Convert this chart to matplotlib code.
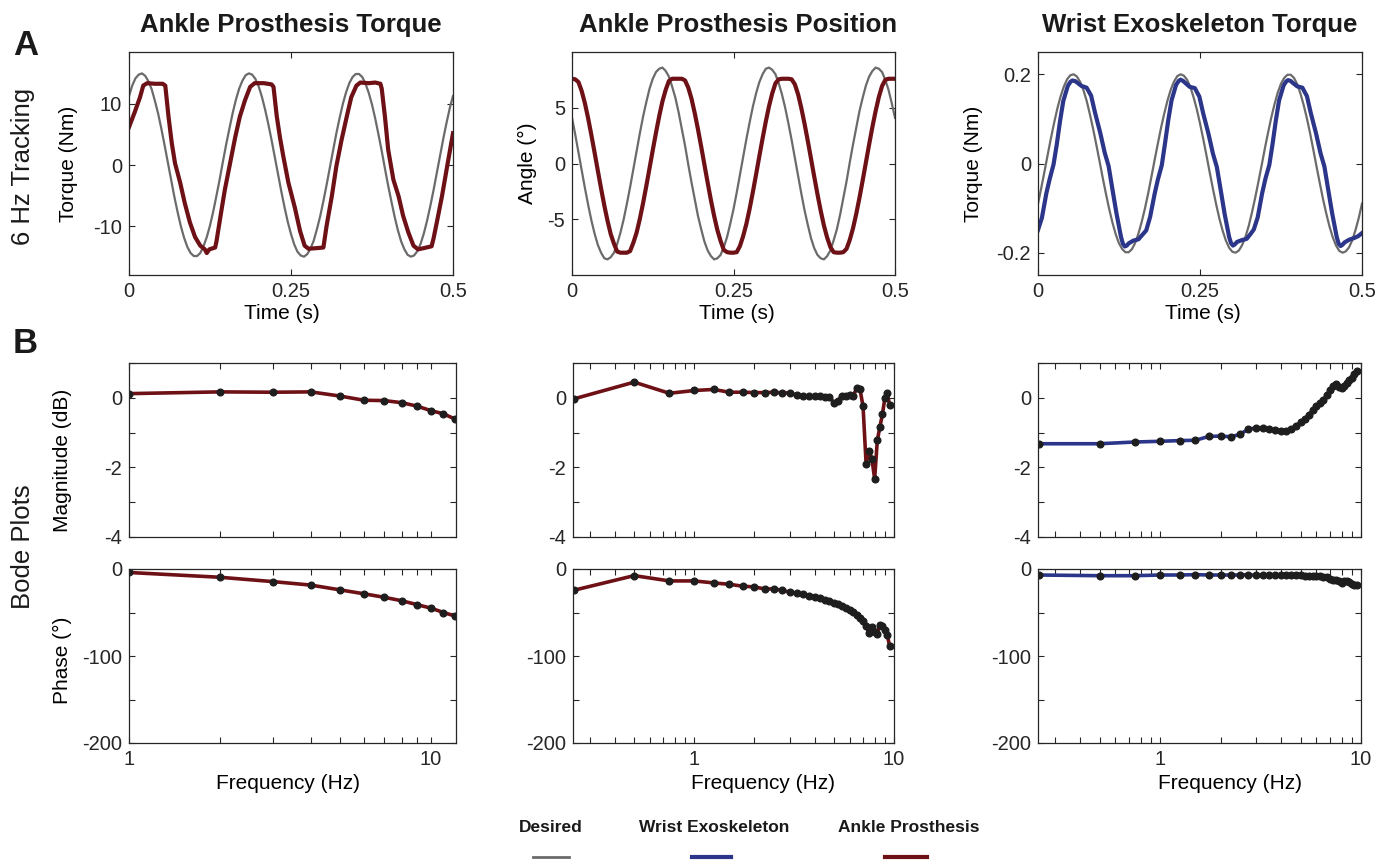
import numpy as np
import matplotlib
matplotlib.use('Agg')
import matplotlib.pyplot as plt
from matplotlib.lines import Line2D
from matplotlib.ticker import LogLocator, NullFormatter, FixedLocator

plt.rcParams['font.family'] = ['Liberation Sans', 'DejaVu Sans']

# ---------------- 6 Hz tracking data ----------------
# signals sampled every 5 ms (0 .. 0.5 s)
t_grid = np.linspace(0, 0.5, 101)

torque_desired = [11.3, 13.0, 14.2, 14.8, 15.0, 14.6, 13.7, 12.4, 10.5, 8.4,
                  5.9, 3.2, 0.4, -2.4, -5.2, -7.7, -10.0, -11.9, -13.4, -14.4,
                  -14.9, -14.9, -14.4, -13.3, -11.8, -9.9, -7.6, -5.0, -2.3, 0.6,
                  3.4, 6.0, 8.5, 10.7, 12.5, 13.8, 14.7, 15.0, 14.8, 14.1,
                  12.9, 11.2, 9.1, 6.7, 4.1, 1.3, -1.5, -4.3, -6.9, -9.3,
                  -11.3, -13.0, -14.2, -14.8, -15.0, -14.6, -13.7, -12.4, -10.5, -8.4,
                  -5.9, -3.2, -0.4, 2.4, 5.2, 7.7, 10.0, 11.9, 13.4, 14.4,
                  14.9, 14.9, 14.4, 13.3, 11.8, 9.9, 7.6, 5.0, 2.3, -0.6,
                  -3.4, -6.0, -8.5, -10.7, -12.5, -13.8, -14.7, -15.0, -14.8, -14.1,
                  -12.9, -11.2, -9.1, -6.7, -4.1, -1.3, 1.5, 4.3, 6.9, 9.3, 11.3]

ankle_torque_t = [0.000, 0.009, 0.017, 0.022, 0.028, 0.040, 0.052, 0.056, 0.061, 0.066,
                  0.071, 0.079, 0.086, 0.094, 0.102, 0.110, 0.117, 0.120, 0.124, 0.133,
                  0.135, 0.138, 0.143, 0.148, 0.156, 0.164, 0.171, 0.179, 0.187, 0.194,
                  0.208, 0.220, 0.223, 0.228, 0.233, 0.238, 0.246, 0.256, 0.264, 0.271,
                  0.277, 0.290, 0.300, 0.305, 0.313, 0.320, 0.328, 0.336, 0.343, 0.351,
                  0.357, 0.370, 0.380, 0.388, 0.390, 0.395, 0.400, 0.408, 0.416, 0.423,
                  0.431, 0.439, 0.446, 0.455, 0.467, 0.470, 0.475, 0.483, 0.491, 0.500]
ankle_torque = [6.2, 8.7, 11.1, 13.0, 13.4, 13.3, 13.3, 13.0, 7.9, 3.6,
                0.3, -2.9, -6.2, -9.4, -11.8, -13.2, -13.8, -14.4, -13.8, -13.5,
                -12.5, -10.5, -7.2, -4.0, 0.3, 4.6, 7.9, 10.6, 12.8, 13.4,
                13.4, 13.2, 12.8, 8.0, 4.5, 1.5, -2.9, -7.0, -10.8, -13.2,
                -13.7, -13.6, -13.5, -9.9, -5.1, -0.2, 4.1, 7.9, 11.1, 13.0,
                13.5, 13.4, 13.5, 13.3, 12.5, 7.9, 2.5, -2.4, -5.1, -8.3,
                -11.0, -13.2, -13.8, -13.6, -13.3, -12.0, -9.4, -5.1, -0.2, 5.2]

angle_desired = [4.1, 2.6, 1.0, -0.6, -2.2, -3.7, -5.1, -6.3, -7.3, -8.0,
                 -8.5, -8.6, -8.4, -8.0, -7.2, -6.2, -5.0, -3.6, -2.1, -0.5,
                 1.1, 2.7, 4.2, 5.5, 6.7, 7.6, 8.2, 8.5, 8.6, 8.3,
                 7.8, 6.9, 5.9, 4.6, 3.1, 1.6, -0.1, -1.7, -3.2, -4.7,
                 -5.9, -7.0, -7.8, -8.3, -8.6, -8.5, -8.2, -7.5, -6.6, -5.4,
                 -4.1, -2.6, -1.0, 0.6, 2.2, 3.7, 5.1, 6.3, 7.3, 8.0,
                 8.5, 8.6, 8.4, 8.0, 7.2, 6.2, 5.0, 3.6, 2.1, 0.5,
                 -1.1, -2.7, -4.2, -5.5, -6.7, -7.6, -8.2, -8.5, -8.6, -8.3,
                 -7.8, -6.9, -5.9, -4.6, -3.1, -1.6, 0.1, 1.7, 3.2, 4.7,
                 5.9, 7.0, 7.8, 8.3, 8.6, 8.5, 8.2, 7.5, 6.6, 5.4, 4.1]
ankle_angle = [7.6, 7.55, 7.3, 6.5, 5.4, 4.05, 2.55, 0.97, -0.65, -2.24,
               -3.76, -5.14, -6.34, -7.2, -7.9, -8.0, -8.0, -8.0, -7.85, -7.1,
               -6.2, -4.97, -3.56, -2.03, -0.43, 1.19, 2.76, 4.24, 5.57, 6.6,
               7.4, 7.6, 7.6, 7.6, 7.6, 7.45, 6.8, 5.81, 4.52, 3.07,
               1.51, -0.11, -1.72, -3.27, -4.70, -5.96, -6.95, -7.75, -7.95, -8.0,
               -8.0, -7.95, -7.4, -6.5, -5.4, -4.05, -2.55, -0.97, 0.65, 2.24,
               3.76, 5.14, 6.3, 7.2, 7.55, 7.6, 7.6, 7.6, 7.55, 7.1,
               6.2, 4.97, 3.56, 2.03, 0.43, -1.19, -2.76, -4.24, -5.57, -6.65,
               -7.5, -7.95, -8.0, -8.0, -7.95, -7.65, -6.85, -5.81, -4.52, -3.07,
               -1.51, 0.11, 1.72, 3.27, 4.70, 5.96, 6.95, 7.5, 7.6, 7.6, 7.6]

wrist_desired = [-0.090, -0.055, -0.018, 0.020, 0.057, 0.092, 0.124, 0.151, 0.173, 0.189,
                 0.198, 0.200, 0.195, 0.183, 0.165, 0.141, 0.111, 0.078, 0.042, 0.005,
                 -0.033, -0.069, -0.103, -0.133, -0.159, -0.179, -0.192, -0.199, -0.199, -0.192,
                 -0.178, -0.157, -0.131, -0.101, -0.067, -0.030, 0.008, 0.045, 0.081, 0.113,
                 0.142, 0.166, 0.184, 0.196, 0.200, 0.197, 0.188, 0.172, 0.149, 0.122,
                 0.090, 0.055, 0.018, -0.020, -0.057, -0.092, -0.124, -0.151, -0.173, -0.189,
                 -0.198, -0.200, -0.195, -0.183, -0.165, -0.141, -0.111, -0.078, -0.042, -0.005,
                 0.033, 0.069, 0.103, 0.133, 0.159, 0.179, 0.192, 0.199, 0.199, 0.192,
                 0.178, 0.157, 0.131, 0.101, 0.067, 0.030, -0.008, -0.045, -0.081, -0.113,
                 -0.142, -0.166, -0.184, -0.196, -0.200, -0.197, -0.188, -0.172, -0.149, -0.122,
                 -0.090]

wrist_torque_t = [0.000, 0.006, 0.013, 0.018, 0.024, 0.029, 0.034, 0.039, 0.046, 0.050,
                  0.053, 0.057, 0.060, 0.067, 0.075, 0.082, 0.088, 0.096, 0.103, 0.109,
                  0.115, 0.121, 0.128, 0.131, 0.134, 0.137, 0.140, 0.147, 0.155, 0.161,
                  0.167, 0.173, 0.180, 0.185, 0.191, 0.196, 0.201, 0.206, 0.213, 0.217,
                  0.220, 0.224, 0.227, 0.234, 0.242, 0.249, 0.255, 0.263, 0.270, 0.276,
                  0.282, 0.288, 0.295, 0.298, 0.301, 0.304, 0.307, 0.314, 0.322, 0.328,
                  0.333, 0.339, 0.346, 0.351, 0.357, 0.362, 0.367, 0.372, 0.379, 0.383,
                  0.386, 0.390, 0.393, 0.400, 0.408, 0.415, 0.421, 0.429, 0.436, 0.442,
                  0.448, 0.454, 0.461, 0.464, 0.467, 0.470, 0.473, 0.480, 0.488, 0.494,
                  0.500]
wrist_torque = [-0.149, -0.122, -0.066, -0.035, -0.002, 0.043, 0.095, 0.140, 0.174, 0.183,
                0.186, 0.185, 0.182, 0.174, 0.170, 0.152, 0.114, 0.069, 0.024, -0.006,
                -0.059, -0.111, -0.164, -0.180, -0.186, -0.184, -0.179, -0.173, -0.170, -0.160,
                -0.150, -0.120, -0.068, -0.036, -0.004, 0.045, 0.097, 0.141, 0.176, 0.185,
                0.188, 0.185, 0.181, 0.172, 0.169, 0.150, 0.112, 0.067, 0.022, -0.008,
                -0.060, -0.113, -0.165, -0.179, -0.184, -0.181, -0.176, -0.172, -0.169, -0.158,
                -0.148, -0.121, -0.066, -0.034, -0.003, 0.044, 0.096, 0.141, 0.175, 0.184,
                0.187, 0.185, 0.181, 0.173, 0.170, 0.151, 0.113, 0.068, 0.023, -0.007,
                -0.060, -0.112, -0.165, -0.180, -0.185, -0.182, -0.177, -0.171, -0.167, -0.163,
                -0.156]

# ---------------- Bode data ----------------
torque_freq = [1, 2, 3, 4, 5, 6, 7, 8, 9, 10, 11, 12]
torque_mag = [0.12, 0.17, 0.16, 0.17, 0.05, -0.07, -0.08, -0.14, -0.24, -0.37, -0.46, -0.61]
torque_phase = [-4, -9.5, -14.5, -18.5, -24, -28.5, -32.5, -36.5, -41, -45, -50, -54]

sweep_freq = [0.25, 0.5, 0.75, 1.0, 1.25, 1.5, 1.75, 2.0, 2.25, 2.5,
              2.75, 3.0, 3.25, 3.5, 3.75, 4.0, 4.25, 4.5, 4.75, 5.0,
              5.25, 5.5, 5.75, 6.0, 6.25, 6.5, 6.75, 7.0, 7.25, 7.5,
              7.75, 8.0, 8.25, 8.5, 8.75, 9.0, 9.25, 9.5]
angle_mag = [-0.03, 0.45, 0.13, 0.21, 0.24, 0.16, 0.16, 0.15, 0.15, 0.16,
             0.14, 0.14, 0.08, 0.05, 0.05, 0.05, 0.04, 0.03, 0.02, -0.14,
             -0.08, 0.06, 0.06, 0.09, 0.05, 0.28, 0.26, -0.25, -1.90, -1.52,
             -1.75, -2.33, -1.22, -0.84, -0.47, -0.01, 0.13, -0.20]
angle_phase = [-24.4, -7.6, -13.7, -13.7, -16.0, -17.6, -19.8, -20.6, -22.9, -22.9,
               -24.4, -26.7, -27.5, -29.0, -30.5, -32.0, -33.6, -35.1, -37.0, -38.9,
               -40.8, -42.7, -45.0, -47.3, -49.6, -52.7, -56.1, -59.9, -66.0, -74.0,
               -67.0, -72.0, -75.0, -64.0, -66.0, -70.0, -76.0, -88.0]
wrist_mag = [-1.32, -1.32, -1.27, -1.25, -1.23, -1.22, -1.11, -1.10, -1.12, -1.05,
             -0.90, -0.87, -0.87, -0.90, -0.93, -0.94, -0.94, -0.90, -0.81, -0.70,
             -0.60, -0.49, -0.34, -0.24, -0.15, -0.06, 0.07, 0.23, 0.33, 0.40,
             0.31, 0.28, 0.34, 0.42, 0.50, 0.58, 0.68, 0.78]
wrist_phase = [-6.9, -7.7, -7.7, -6.9, -6.9, -6.5, -6.9, -6.9, -6.9, -6.9,
               -6.5, -7.3, -7.3, -7.3, -7.3, -7.3, -6.9, -6.9, -7.3, -7.3,
               -7.7, -7.7, -8.1, -8.1, -8.5, -9.2, -9.2, -11.5, -12.3, -12.3,
               -13.5, -16.2, -14.2, -13.5, -15.4, -16.9, -18.5, -18.5]

GRAY = '#6b6b6b'
RED = '#6e1116'
BLUE = '#2b3589'
DOT = '#1e1e1e'
AXC = '#262626'

W, H = 1387, 861
fig = plt.figure(figsize=(W / 100, H / 100), dpi=100)


def box(x0, y0, x1, y1):
    # pixel box (top-left origin) -> figure fraction rect
    return [x0 / W, 1 - y1 / H, (x1 - x0) / W, (y1 - y0) / H]


def style(ax):
    ax.tick_params(which='both', direction='in', top=True, right=True,
                   length=4, width=0.8, colors=AXC, labelsize=14.5, pad=5)
    for s in ax.spines.values():
        s.set_color(AXC)
        s.set_linewidth(0.9)


# ---------------- top row ----------------
top = [box(129, 52, 453, 275), box(572, 52, 895, 275), box(1038, 52, 1362, 275)]
ax1, ax2, ax3 = [fig.add_axes(r) for r in top]

ax1.plot(t_grid, torque_desired, color=GRAY, lw=1.6)
ax1.plot(ankle_torque_t, ankle_torque, color=RED, lw=3)
ax1.set_ylim(-18, 18.5)
ax1.set_yticks([-10, 0, 10])
ax1.set_yticklabels(['-10', '0', '10'])
ax1.set_ylabel('Torque (Nm)', fontsize=15)
ax1.yaxis.set_label_coords(-0.157, 0.5)

ax2.plot(t_grid, angle_desired, color=GRAY, lw=1.6)
ax2.plot(t_grid, ankle_angle, color=RED, lw=3)
ax2.set_ylim(-10, 10)
ax2.set_yticks([-5, 0, 5])
ax2.set_yticklabels(['-5', '0', '5'])
ax2.set_ylabel('Angle (°)', fontsize=15)
ax2.yaxis.set_label_coords(-0.108, 0.5)

ax3.plot(t_grid, wrist_desired, color=GRAY, lw=1.6)
ax3.plot(wrist_torque_t, wrist_torque, color=BLUE, lw=3)
ax3.set_ylim(-0.25, 0.25)
ax3.set_yticks([-0.2, 0, 0.2])
ax3.set_yticklabels(['-0.2', '0', '0.2'])
ax3.set_ylabel('Torque (Nm)', fontsize=15)
ax3.yaxis.set_label_coords(-0.170, 0.5)

for ax, lx in zip([ax1, ax2, ax3], [0.472, 0.511, 0.51]):
    ax.set_xlim(0, 0.5)
    ax.set_xticks([0, 0.25, 0.5])
    ax.set_xticklabels(['0', '0.25', '0.5'])
    ax.set_xlabel('Time (s)', fontsize=15)
    ax.xaxis.set_label_coords(lx, -0.13)
    style(ax)

# ---------------- Bode plots ----------------
mag_boxes = [box(129, 363, 456, 537), box(573, 363, 894, 537), box(1038, 363, 1361, 537)]
ph_boxes = [box(129, 569, 456, 743), box(573, 569, 894, 743), box(1038, 569, 1361, 743)]
bode_sets = [
    (torque_freq, torque_mag, torque_phase, RED, (1, 12.1), 0.486),
    (sweep_freq, angle_mag, angle_phase, RED, (0.247, 10), 0.592),
    (sweep_freq, wrist_mag, wrist_phase, BLUE, (0.247, 10), 0.594),
]

for i, (f, m, p, col, xl, lx) in enumerate(bode_sets):
    axm = fig.add_axes(mag_boxes[i])
    axp = fig.add_axes(ph_boxes[i])
    axm.plot(f, m, color=col, lw=2.6, marker='o', ms=4.8, mfc=DOT, mec=DOT)
    axp.plot(f, p, color=col, lw=2.6, marker='o', ms=4.8, mfc=DOT, mec=DOT)
    for ax in (axm, axp):
        ax.set_xscale('log')
        ax.set_xlim(*xl)
        ax.xaxis.set_major_locator(FixedLocator([1, 10]))
        ax.xaxis.set_minor_locator(LogLocator(base=10, subs=range(2, 10)))
        ax.xaxis.set_minor_formatter(NullFormatter())
        style(ax)
    axm.set_ylim(-4, 1)
    axm.set_yticks([-4, -3, -2, -1, 0, 1])
    axm.set_yticklabels(['-4', '', '-2', '', '0', ''])
    axm.set_xticklabels([])
    axp.set_ylim(-200, 0)
    axp.set_yticks([-200, -150, -100, -50, 0])
    axp.set_yticklabels(['-200', '', '-100', '', '0'])
    axp.set_xticklabels(['1', '10'])
    axp.set_xlabel('Frequency (Hz)', fontsize=15)
    axp.xaxis.set_label_coords(lx, -0.178)
    if i == 0:
        axm.set_ylabel('Magnitude (dB)', fontsize=15)
        axm.yaxis.set_label_coords(-0.174, 0.443)
        axp.set_ylabel('Phase (°)', fontsize=15)
        axp.yaxis.set_label_coords(-0.174, 0.477)

# ---------------- titles and panel labels ----------------
for x, s in zip([291, 738, 1200], ['Ankle Prosthesis Torque', 'Ankle Prosthesis Position',
                                   'Wrist Exoskeleton Torque']):
    fig.text(x / W, 1 - 32 / H, s, ha='center', va='baseline', fontsize=18.5,
             fontweight='bold', color='#1a1a1a')

fig.text(13 / W, 1 - 55 / H, 'A', fontsize=25, fontweight='bold', color='#1a1a1a', va='baseline')
fig.text(13 / W, 1 - 353 / H, 'B', fontsize=25, fontweight='bold', color='#1a1a1a', va='baseline')
fig.text(23 / W, 1 - 166 / H, '6 Hz Tracking', rotation=90, ha='center', va='center',
         fontsize=18.5, color='#1a1a1a')
fig.text(23 / W, 1 - 547 / H, 'Bode Plots', rotation=90, ha='center', va='center',
         fontsize=18.5, color='#1a1a1a')

# ---------------- legend (text above short line keys) ----------------
legend_items = [('Desired', GRAY, 551, 533, 569, 2.0),
                ('Wrist Exoskeleton', BLUE, 714, 692, 731, 3.0),
                ('Ankle Prosthesis', RED, 909, 885, 927, 3.0)]
for label, col, cx, x0, x1, lw in legend_items:
    fig.text(cx / W, 1 - 827 / H, label, ha='center', va='center', fontsize=12.5,
             fontweight='bold', color='#1a1a1a')
    fig.add_artist(Line2D([x0 / W, x1 / W], [1 - 857 / H, 1 - 857 / H], color=col, lw=lw))

fig.savefig('out.png', dpi=100)
